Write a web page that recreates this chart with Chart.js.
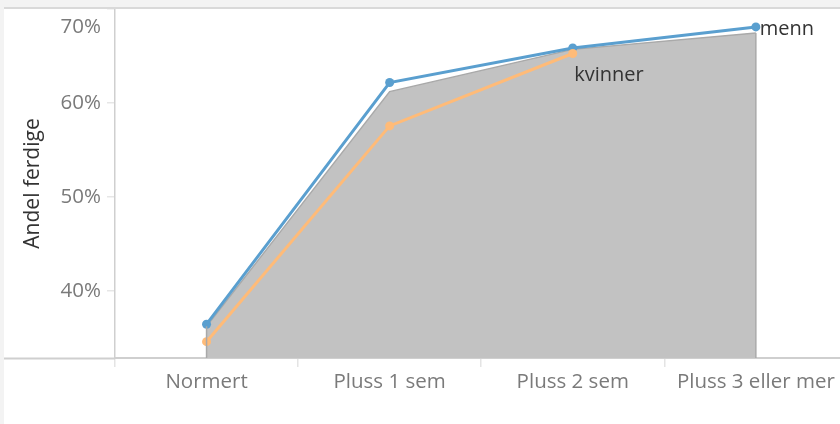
<!DOCTYPE html>
<html>
<head>
<meta charset="utf-8">
<script src="https://cdn.jsdelivr.net/npm/chart.js@4"></script>
<style>
  html, body { margin: 0; padding: 0; background: #f3f3f3; width: 840px; height: 424px; overflow: hidden; }
  #frame { position: absolute; left: 4px; top: 7px; width: 836px; height: 417px; border-top: 2px solid #d9d9d9; background: #ffffff; }
  #c { display: block; }
</style>
</head>
<body>
<div id="frame"><canvas id="c" width="836" height="415"></canvas></div>
<script>
// ---- data ----
const categories = ["Normert", "Pluss 1 sem", "Pluss 2 sem", "Pluss 3 eller mer"];
const alle    = [36.2, 61.2, 65.7, 67.45];   // grey area
const menn    = [36.43, 62.17, 65.85, 68.09];
const kvinner = [34.57, 57.55, 65.26, null];
const yTicks  = [40, 50, 60, 70];
const seriesLabels = { menn: "menn", kvinner: "kvinner" };

const FONT = "'Open Sans', 'DejaVu Sans', sans-serif";

const toPoints = arr => arr.map((v, i) => ({ x: i, y: v }));

const decorPlugin = {
  id: 'decor',
  afterDatasetsDraw(chart) {
    const ctx = chart.ctx;
    const area = chart.chartArea;
    const am = chart.getDatasetMeta(0);
    const pts = am.data.filter(p => !p.skip);
    ctx.save();
    ctx.strokeStyle = '#a9a9a9';
    ctx.lineWidth = 1.5;
    [pts[0], pts[pts.length - 1]].forEach(p => {
      ctx.beginPath();
      ctx.moveTo(p.x, p.y);
      ctx.lineTo(p.x, area.bottom);
      ctx.stroke();
    });
    ctx.restore();
  },
  afterDraw(chart) {
    const ctx = chart.ctx;
    const area = chart.chartArea;
    ctx.save();
    ctx.strokeStyle = '#cfcfcf';
    ctx.lineWidth = 2;
    ctx.beginPath();
    ctx.moveTo(0, area.bottom + 0.5);
    ctx.lineTo(area.left, area.bottom + 0.5);
    ctx.stroke();
    ctx.fillStyle = '#333333';
    ctx.font = "20px " + FONT;
    ctx.textAlign = 'left';
    ctx.textBaseline = 'alphabetic';
    const mm = chart.getDatasetMeta(1).data.filter(p => !p.skip);
    const pm = mm[mm.length - 1];
    ctx.fillText(seriesLabels.menn, pm.x + 4, pm.y + 8.5);
    const km = chart.getDatasetMeta(2).data.filter(p => !p.skip);
    const pk = km[km.length - 1];
    ctx.fillText(seriesLabels.kvinner, pk.x + 1.5, pk.y + 27);
    ctx.restore();
  }
};

new Chart(document.getElementById('c'), {
  type: 'line',
  data: {
    datasets: [
      {
        label: 'alle',
        data: toPoints(alle),
        fill: 'start',
        backgroundColor: '#c2c2c2',
        borderColor: '#a9a9a9',
        borderWidth: 1.5,
        pointRadius: 0,
        tension: 0,
        order: 2
      },
      {
        label: 'menn',
        data: toPoints(menn),
        borderColor: '#5a9fcf',
        backgroundColor: '#5a9fcf',
        borderWidth: 3,
        pointRadius: 4.5,
        pointBorderWidth: 0,
        tension: 0,
        order: 1
      },
      {
        label: 'kvinner',
        data: toPoints(kvinner),
        borderColor: '#ffbb78',
        backgroundColor: '#ffbb78',
        borderWidth: 3,
        pointRadius: 4.5,
        pointBorderWidth: 0,
        tension: 0,
        order: 0
      }
    ]
  },
  options: {
    responsive: false,
    animation: false,
    layout: { padding: 0, autoPadding: false },
    plugins: { legend: { display: false }, tooltip: { enabled: false } },
    scales: {
      x: {
        type: 'linear',
        min: -0.5,
        max: 3.4596,
        afterBuildTicks: s => { s.ticks = categories.map((c, i) => ({ value: i })); },
        afterFit: s => { s.height = 66; s.paddingLeft = 0; s.paddingRight = 0; },
        ticks: {
          autoSkip: false,
          maxRotation: 0,
          padding: 3,
          color: '#7a7a7a',
          font: { family: FONT, size: 20.5 },
          callback: v => categories[v]
        },
        grid: {
          offset: true,
          drawOnChartArea: false,
          drawTicks: true,
          tickLength: 9,
          color: '#e4e4e4',
          lineWidth: 1.5
        },
        border: { display: true, color: '#cfcfcf', width: 2 }
      },
      y: {
        type: 'linear',
        min: 32.83,
        max: 70,
        afterBuildTicks: s => { s.ticks = yTicks.map(v => ({ value: v })); },
        afterFit: s => { s.width = 111; s.paddingTop = 0; s.paddingBottom = 0; },
        ticks: {
          padding: 6,
          color: '#7a7a7a',
          font: { family: FONT, size: 20.5, lineHeight: 1.8 },
          callback: v => v === 70 ? ['', v + '%'] : v + '%'
        },
        grid: {
          drawOnChartArea: false,
          drawTicks: true,
          tickLength: 8,
          color: '#e6e6e6',
          lineWidth: 1.5
        },
        border: { display: true, color: '#cfcfcf', width: 1.5 },
        title: {
          display: true,
          text: 'Andel ferdige',
          color: '#333333',
          font: { family: FONT, size: 21 },
          padding: { top: 16, bottom: 0 }
        }
      }
    }
  },
  plugins: [decorPlugin]
});
</script>
</body>
</html>
